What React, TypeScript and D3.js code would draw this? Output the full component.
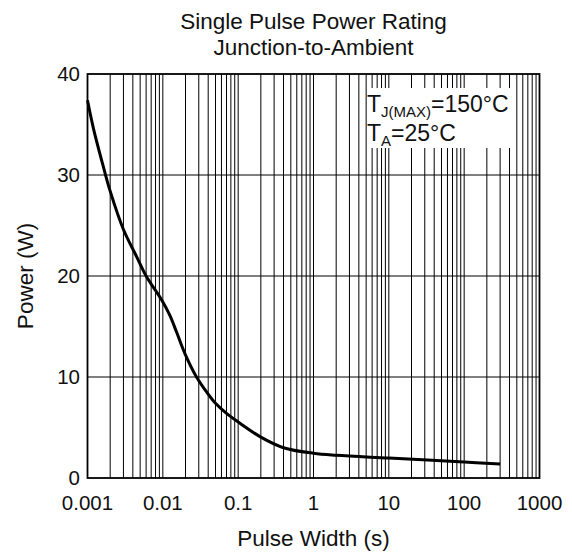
import React, { useEffect, useRef } from "react";
import * as d3 from "d3";

const width = 572,
  height = 556;
const margin = { left: 87.5, right: 32.5, top: 74, bottom: 78 };

// pulse width (s) vs single pulse power (W)
const pulseWidth = [
  0.001, 0.0012, 0.0016, 0.002, 0.003, 0.0045, 0.006, 0.0097, 0.0124,
  0.0153, 0.0197, 0.028, 0.04, 0.05, 0.07, 0.1, 0.2, 0.4, 1, 2, 10, 100, 300,
];
const power = [
  37.4, 34.6, 31.0, 28.4, 24.6, 21.9, 20.0, 17.6, 16.1, 14.4, 12.3, 10.0,
  8.3, 7.4, 6.4, 5.55, 4.05, 3.0, 2.45, 2.25, 1.97, 1.58, 1.38,
];

const xTicks = [0.001, 0.01, 0.1, 1, 10, 100, 1000];
const xTickLabels = ["0.001", "0.01", "0.1", "1", "10", "100", "1000"];
const yTicks = [0, 10, 20, 30, 40];

const font = "'Liberation Sans', Arial, sans-serif";

export default function App() {
  const ref = useRef<SVGSVGElement>(null);

  useEffect(() => {
    const svg = d3.select(ref.current);
    svg.selectAll("*").remove();

    const x = d3
      .scaleLog()
      .domain([0.001, 1000])
      .range([margin.left, width - margin.right]);
    const y = d3
      .scaleLinear()
      .domain([0, 40])
      .range([height - margin.bottom, margin.top]);

    const [x0, x1] = x.range();
    const [y0, y1] = y.range();

    svg
      .append("rect")
      .attr("width", width)
      .attr("height", height)
      .attr("fill", "white");

    // vertical grid, 1..9 of every decade
    const minor: number[] = [];
    for (let e = -3; e < 3; e++) {
      for (let m = 1; m <= 9; m++) {
        const v = m * Math.pow(10, e);
        if (v > 0.001) minor.push(v);
      }
    }
    svg
      .append("g")
      .selectAll("line")
      .data(minor)
      .enter()
      .append("line")
      .attr("x1", (d) => x(d))
      .attr("x2", (d) => x(d))
      .attr("y1", y1)
      .attr("y2", y0)
      .attr("stroke", "#000")
      .attr("stroke-width", 1);

    svg
      .append("g")
      .selectAll("line")
      .data([10, 20, 30])
      .enter()
      .append("line")
      .attr("x1", x0)
      .attr("x2", x1)
      .attr("y1", (d) => y(d))
      .attr("y2", (d) => y(d))
      .attr("stroke", "#000")
      .attr("stroke-width", 1);

    // annotation box hides the grid
    svg
      .append("rect")
      .attr("x", 367)
      .attr("y", 88)
      .attr("width", 149)
      .attr("height", 60)
      .attr("fill", "white");

    const ann = svg
      .append("g")
      .attr("font-family", font)
      .attr("font-size", 23)
      .attr("fill", "#111");
    const t1 = ann.append("text").attr("x", 367).attr("y", 112);
    t1.append("tspan").text("T");
    t1.append("tspan").attr("font-size", 15).attr("dy", 4.5).text("J(MAX)");
    t1.append("tspan").attr("dy", -4.5).text("=150°C");
    const t2 = ann.append("text").attr("x", 367).attr("y", 141);
    t2.append("tspan").text("T");
    t2.append("tspan").attr("font-size", 15).attr("dy", 5).text("A");
    t2.append("tspan").attr("dy", -5).text("=25°C");

    // frame
    svg
      .append("rect")
      .attr("x", x0)
      .attr("y", y1)
      .attr("width", x1 - x0)
      .attr("height", y0 - y1)
      .attr("fill", "none")
      .attr("stroke", "#000")
      .attr("stroke-width", 1.8);

    const line = d3
      .line<number>()
      .x((d) => x(d))
      .y((d, i) => y(power[i]))
      .curve(d3.curveCatmullRom.alpha(0.5));

    svg
      .append("path")
      .attr("d", line(pulseWidth))
      .attr("fill", "none")
      .attr("stroke", "#000")
      .attr("stroke-width", 3);

    const labels = svg
      .append("g")
      .attr("font-family", font)
      .attr("font-size", 20.5)
      .attr("fill", "#111");

    labels
      .selectAll(".xt")
      .data(xTicks)
      .enter()
      .append("text")
      .attr("x", (d) => x(d))
      .attr("y", 510)
      .attr("text-anchor", "middle")
      .text((d, i) => xTickLabels[i]);

    labels
      .selectAll(".yt")
      .data(yTicks)
      .enter()
      .append("text")
      .attr("x", 80)
      .attr("y", (d) => y(d) + 7)
      .attr("text-anchor", "end")
      .text((d) => d);

    const titles = svg
      .append("g")
      .attr("font-family", font)
      .attr("font-size", 22.5)
      .attr("fill", "#111")
      .attr("text-anchor", "middle");
    titles.append("text").attr("x", 313.5).attr("y", 29).text("Single Pulse Power Rating");
    titles.append("text").attr("x", 313.5).attr("y", 55).text("Junction-to-Ambient");
    titles.append("text").attr("x", 313.5).attr("y", 546).text("Pulse Width (s)");
    titles
      .append("text")
      .attr("transform", `translate(33,${(y0 + y1) / 2}) rotate(-90)`)
      .text("Power (W)");
  }, []);

  return (
    <svg
      ref={ref}
      width={width}
      height={height}
      style={{ position: "absolute", left: 0, top: 0 }}
    />
  );
}
